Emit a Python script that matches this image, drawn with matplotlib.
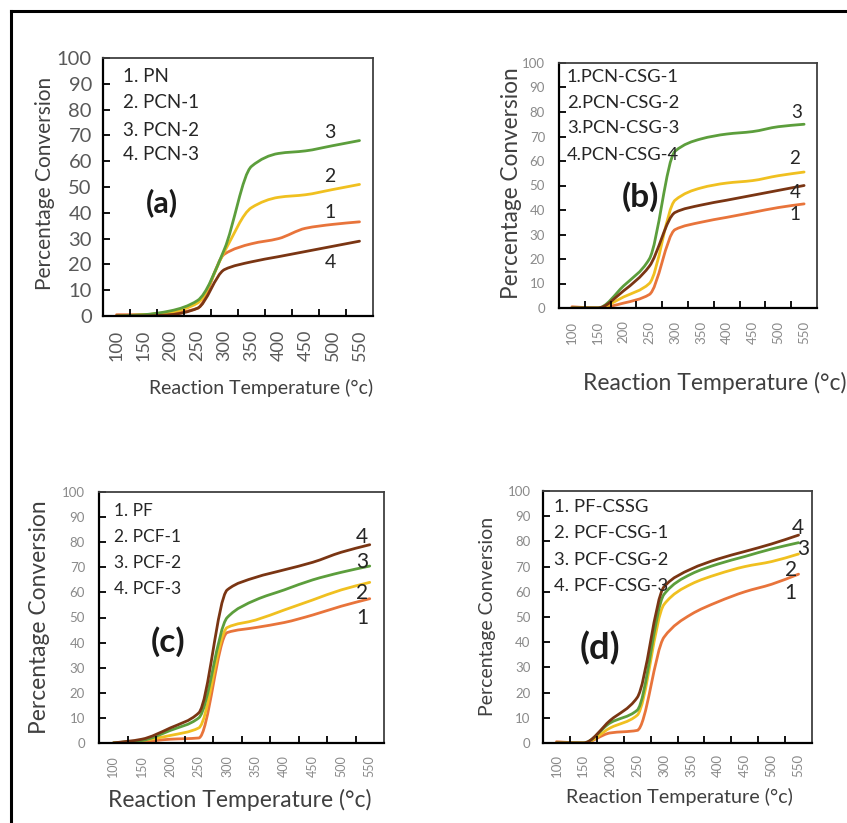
import matplotlib
matplotlib.use("Agg")
import matplotlib.pyplot as plt
from matplotlib.path import Path
from matplotlib.patches import PathPatch
from matplotlib.lines import Line2D

plt.rcParams['font.family'] = ['Lato', 'DejaVu Sans']

W, H = 847, 823

temps = ['100', '150', '200', '250', '300', '350', '400', '450', '500', '550']

# panel (a)
a_names = ['1. PN', '2. PCN-1', '3. PCN-2', '4. PCN-3']
a1 = [0.5, 0.5, 1, 3, 24, 28, 30, 34, 35.5, 36.5]
a2 = [0, 0.5, 1.5, 5, 25, 42, 46, 47, 49, 51]
a3 = [0, 0.5, 2, 6, 26, 58, 63, 64, 66, 68]
a4 = [0, 0, 0.5, 3, 18, 21, 23, 25, 27, 29]

# panel (b)
b_names = ['1.PCN-CSG-1', '2.PCN-CSG-2', '3.PCN-CSG-3', '4.PCN-CSG-4']
b1 = [0.5, 0, 2, 5.5, 32, 35, 37, 39, 41, 42.5]
b2 = [0, 0, 4.5, 10, 44, 49, 51, 52, 54, 55.5]
b3 = [0, 0, 9, 20, 64, 69, 71, 72, 74, 75]
b4 = [0, 0, 7, 17, 39, 42, 44, 46, 48, 50]

# panel (c)
c_names = ['1. PF', '2. PCF-1', '3. PCF-2', '4. PCF-3']
c1 = [0, 0.5, 1.5, 2, 44, 46, 48, 51, 54.5, 57.5]
c2 = [0, 1, 3, 6, 46, 49, 53, 57, 61, 64]
c3 = [0, 1, 5, 10, 50, 57, 61, 65, 68, 70.5]
c4 = [0, 1.5, 6, 12, 61, 66, 69, 72, 76, 79]

# panel (d)
d_names = ['1. PF-CSSG', '2. PCF-CSG-1', '3. PCF-CSG-2', '4. PCF-CSG-3']
d1 = [0.5, 0, 4, 5, 42, 51, 56, 60, 63, 67]
d2 = [0, 0, 6, 11, 55, 63, 67, 70, 72, 75]
d3 = [0, 0, 8, 13, 59, 67, 71, 74, 77, 79.5]
d4 = [0, 0, 9, 18, 62, 69, 73, 76, 79, 82.5]

colors = ['#e8743b', '#f0c020', '#5c9e3c', '#7a3513']


def fx(px):
    return px / W


def fy(py):
    return 1 - py / H


def slopes(y):
    # monotone (Fritsch-Carlson style) tangents, so the smoothed line does not overshoot
    d = [y[i + 1] - y[i] for i in range(len(y) - 1)]
    m = [d[0]]
    for i in range(1, len(y) - 1):
        if d[i - 1] * d[i] <= 0:
            m.append(0.0)
        else:
            m.append(2.0 / (1.0 / d[i - 1] + 1.0 / d[i]))
    m.append(d[-1])
    return m


def smooth_line(ax, y, color):
    m = slopes(y)
    verts = [(0, y[0])]
    codes = [Path.MOVETO]
    for i in range(len(y) - 1):
        verts += [(i + 1 / 3, y[i] + m[i] / 3),
                  (i + 2 / 3, y[i + 1] - m[i + 1] / 3),
                  (i + 1, y[i + 1])]
        codes += [Path.CURVE4] * 3
    ax.add_patch(PathPatch(Path(verts, codes), facecolor='none',
                           edgecolor=color, lw=2.0, capstyle='round'))


def panel(box, series, names, letter, numbers, legend_xy, letter_xy,
          xlab_xy, ylab_xy, fs):
    left, top, right, bottom = box
    ax = fig.add_axes([fx(left), fy(bottom), fx(right - left), (bottom - top) / H])
    for y, c in zip(series, colors):
        smooth_line(ax, y, c)
    ax.set_xlim(-0.5, 9.5)
    ax.set_ylim(0, 100)
    ax.set_xticks(range(10))
    ax.set_xticklabels(temps, rotation=90)
    ax.set_xticks([i + 0.5 for i in range(9)], minor=True)
    ax.set_yticks(range(0, 101, 10))
    ax.tick_params(axis='x', which='major', length=0, pad=fs['xpad'],
                   labelsize=fs['xtick'], labelcolor=fs['tickcolor'])
    ax.tick_params(axis='x', which='minor', direction='in', length=5, width=1.3)
    ax.tick_params(axis='y', direction='in', length=5, width=1.3, pad=fs['ypad'],
                   labelsize=fs['ytick'], labelcolor=fs['tickcolor'])
    for s in ['left', 'bottom']:
        ax.spines[s].set_linewidth(1.6)
        ax.spines[s].set_color('black')
    for s in ['top', 'right']:
        ax.spines[s].set_linewidth(1.3)
        ax.spines[s].set_color('#404040')

    lx, lys = legend_xy
    for name, ly in zip(names, lys):
        fig.text(fx(lx), fy(ly), name, ha='left', va='center',
                 fontsize=fs['legend'], color='#262626')
    for (num, nx, ny) in numbers:
        fig.text(fx(nx), fy(ny), num, ha='center', va='center',
                 fontsize=fs['num'], color='#262626')
    fig.text(fx(letter_xy[0]), fy(letter_xy[1]), letter, ha='center', va='center',
             fontsize=fs['letter'], fontweight='bold', color='#1a1a1a')
    fig.text(fx(xlab_xy[0]), fy(xlab_xy[1]), 'Reaction Temperature (°c)',
             ha='center', va='center', fontsize=fs['xlab'], color='#404040')
    fig.text(fx(ylab_xy[0]), fy(ylab_xy[1]), 'Percentage Conversion',
             ha='center', va='center', rotation=90, fontsize=fs['ylab'], color='#404040')


fig = plt.figure(figsize=(W / 100, H / 100), dpi=100)

panel((103, 58, 373, 316), [a1, a2, a3, a4], a_names, '(a)',
      [('3', 330, 133), ('2', 330, 177), ('1', 330, 212), ('4', 330, 263)],
      (123, [77, 103, 130, 155]), (162, 203), (261, 388), (45, 183),
      dict(xtick=13, ytick=14.5, xpad=10, ypad=8, tickcolor='#595959',
           legend=13.5, num=14, letter=22, xlab=14, ylab=15))

panel((559, 63, 817, 308), [b1, b2, b3, b4], b_names, '(b)',
      [('3', 797, 112), ('2', 795, 158), ('4', 795, 193), ('1', 795, 215)],
      (567, [77, 103, 128, 155]), (640, 197), (715, 383), (512, 183),
      dict(xtick=9.5, ytick=9.5, xpad=9, ypad=10, tickcolor='#8a8a8a',
           legend=13.2, num=13.5, letter=24, xlab=16.5, ylab=16.3))

panel((99, 492, 384, 743), [c1, c2, c3, c4], c_names, '(c)',
      [('4', 362, 537), ('3', 362, 562), ('2', 362, 593), ('1', 362, 618)],
      (114, [511, 537, 563, 589]), (168, 642), (240, 800), (40, 617),
      dict(xtick=9, ytick=9.5, xpad=9, ypad=10, tickcolor='#8a8a8a',
           legend=12.5, num=15, letter=24, xlab=16.5, ylab=16.4))

panel((543, 491, 812, 743), [d1, d2, d3, d4], d_names, '(d)',
      [('4', 798, 528), ('3', 803, 549), ('2', 791, 570), ('1', 790, 593)],
      (554, [507, 533, 560, 586]), (600, 648), (679, 797), (487, 616),
      dict(xtick=9.5, ytick=9.5, xpad=8, ypad=9, tickcolor='#8a8a8a',
           legend=13.3, num=15, letter=26, xlab=14.2, ylab=14))

# outer frame (left and top edges)
fig.add_artist(Line2D([fx(11), fx(11)], [fy(11), 0], color='black', lw=2.2))
fig.add_artist(Line2D([fx(11), 1], [fy(11), fy(11)], color='black', lw=2.2))

fig.savefig('out.png', dpi=100)
